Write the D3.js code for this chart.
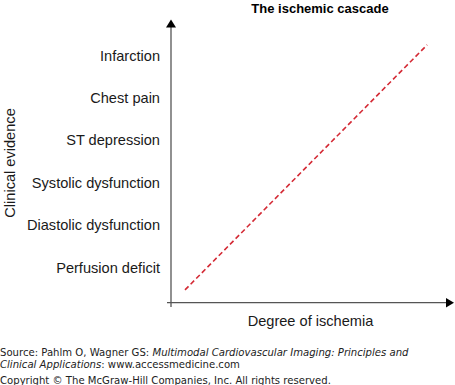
<!DOCTYPE html>
<html>
<head>
<meta charset="utf-8">
<script src="https://cdn.jsdelivr.net/npm/d3@7"></script>
<style>
  html, body { margin: 0; padding: 0; background: #fff; }
  svg { display: block; }
</style>
</head>
<body>
<svg id="chart" width="455" height="385"></svg>
<script>
// ---- data ----
const categories = ["Perfusion deficit", "Diastolic dysfunction", "Systolic dysfunction", "ST depression", "Chest pain", "Infarction"];
const cascadeX = [0.5, 9.15];     // degree of ischemia (arbitrary units)
const cascadeY = [-0.54, 5.24];   // clinical evidence level (category index)
const title = "The ischemic cascade";
const xLabel = "Degree of ischemia";
const yLabel = "Clinical evidence";
const sourceLines = [
  ["Source: Pahlm O, Wagner GS: ", "Multimodal Cardiovascular Imaging: Principles and", ""],
  ["", "Clinical Applications", ": www.accessmedicine.com"]
];
const copyright = "Copyright \u00A9 The McGraw-Hill Companies, Inc. All rights reserved.";

// ---- drawing ----
const svg = d3.select("#chart");
const x = d3.scaleLinear().domain([0, 10]).range([171, 451]);
const y = d3.scaleLinear().domain([0, 5]).range([267, 55]);

const axisColor = "#555";
const font = "Liberation Sans, Arial, Helvetica, sans-serif";
const labelSize = 14.6;

// title
svg.append("text").attr("x", 320).attr("y", 13)
  .attr("text-anchor", "middle").attr("font-family", font)
  .attr("font-weight", "bold").attr("font-size", 13).attr("fill", "#000")
  .text(title);

// y axis line
svg.append("line").attr("x1", 171).attr("x2", 171).attr("y1", 27).attr("y2", 307)
  .attr("stroke", axisColor).attr("stroke-width", 1.3);
svg.append("path").attr("d", "M171,19.5 L166,27.5 L176,27.5 Z").attr("fill", "#000");

// x axis line
svg.append("line").attr("x1", 167).attr("x2", 446).attr("y1", 302.7).attr("y2", 302.7)
  .attr("stroke", axisColor).attr("stroke-width", 1.3);
svg.append("path").attr("d", "M454,302.7 L446,298 L446,307.4 Z").attr("fill", "#000");

// category labels (y axis ticks)
const yAxis = d3.axisLeft(y).tickValues(d3.range(categories.length))
  .tickFormat(i => categories[i]).tickSize(0).tickPadding(0);
const gy = svg.append("g").attr("transform", "translate(160,0)").call(yAxis);
gy.select(".domain").remove();
gy.selectAll("text").attr("font-family", font).attr("font-size", labelSize)
  .attr("fill", "#1a1a1a").attr("dy", "0.35em");

// axis titles
svg.append("text").attr("transform", "translate(15,163) rotate(-90)")
  .attr("text-anchor", "middle").attr("font-family", font)
  .attr("font-size", labelSize).attr("fill", "#1a1a1a").text(yLabel);
svg.append("text").attr("x", 310.5).attr("y", 326)
  .attr("text-anchor", "middle").attr("font-family", font)
  .attr("font-size", labelSize).attr("fill", "#1a1a1a").text(xLabel);

// cascade line
const lineData = cascadeX.map((v, i) => [v, cascadeY[i]]);
svg.append("path").datum(lineData)
  .attr("d", d3.line().x(d => x(d[0])).y(d => y(d[1])))
  .attr("fill", "none").attr("stroke", "#d42a35").attr("stroke-width", 1.6)
  .attr("stroke-dasharray", "5,3");

// footer
const ffont = "DejaVu Sans, Verdana, sans-serif";
sourceLines.forEach((parts, i) => {
  const t = svg.append("text").attr("x", 0).attr("y", 355.5 + i * 12)
    .attr("font-family", ffont).attr("font-size", 10.1).attr("fill", "#222");
  t.append("tspan").text(parts[0]);
  t.append("tspan").attr("font-style", "italic").text(parts[1]);
  t.append("tspan").text(parts[2]);
});
svg.append("text").attr("x", 0).attr("y", 384)
  .attr("font-family", ffont).attr("font-size", 10.1).attr("fill", "#222")
  .text(copyright);
</script>
</body>
</html>
